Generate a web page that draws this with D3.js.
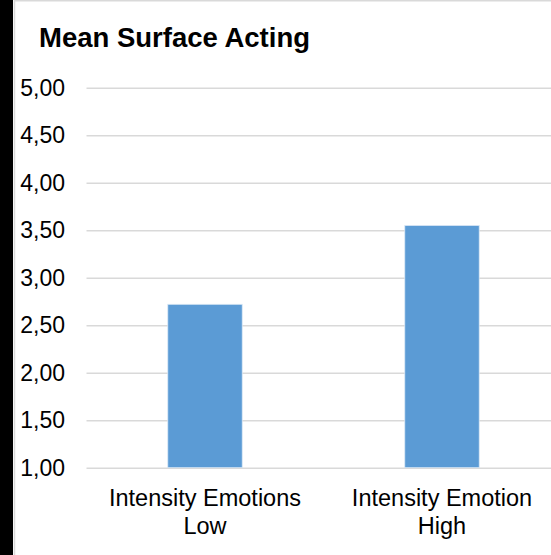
<!DOCTYPE html>
<html>
<head>
<meta charset="utf-8">
<script src="https://cdn.jsdelivr.net/npm/d3@7"></script>
<style>
  html, body { margin: 0; padding: 0; background: #fff; }
  svg { display: block; }
  text { font-family: "Liberation Sans", Arial, sans-serif; fill: #000; }
</style>
</head>
<body>
<svg id="chart" width="551" height="555"></svg>
<script>
// Chart data
const title = "Mean Surface Acting";
const categories = [["Intensity Emotions", "Low"], ["Intensity Emotion", "High"]];
const values = [2.72, 3.55];
const yTicks = [1.0, 1.5, 2.0, 2.5, 3.0, 3.5, 4.0, 4.5, 5.0];

const svg = d3.select("#chart");
const W = 551, H = 555;

// Frame: dark strip on the left, light chart-area border
svg.append("rect").attr("x", 0).attr("y", 0).attr("width", W).attr("height", H).attr("fill", "#fff");
svg.append("rect").attr("x", 0).attr("y", 0).attr("width", 13).attr("height", H).attr("fill", "#000");
svg.append("line").attr("x1", 14.5).attr("x2", 14.5).attr("y1", 0).attr("y2", H)
  .attr("stroke", "#d9d9d9").attr("stroke-width", 1.5);
svg.append("line").attr("x1", 14).attr("x2", W).attr("y1", 0.75).attr("y2", 0.75)
  .attr("stroke", "#d9d9d9").attr("stroke-width", 1.5);

const plot = { left: 86.5, right: 560.5, top: 87.7, bottom: 467.7 };

const x = d3.scaleBand()
  .domain(d3.range(categories.length))
  .range([plot.left, plot.right])
  .paddingInner(0.686)
  .paddingOuter(0.343);

const y = d3.scaleLinear().domain([1, 5]).range([plot.bottom, plot.top]);
const fmt = v => d3.format(".2f")(v).replace(".", ",");

// Gridlines and value axis labels
const yAxis = d3.axisLeft(y).tickValues(yTicks).tickFormat(fmt)
  .tickSize(-(plot.right - plot.left)).tickPadding(21.5);
const gy = svg.append("g").attr("transform", `translate(${plot.left},0)`).call(yAxis);
gy.select(".domain").remove();
gy.selectAll(".tick line").attr("stroke", "#d9d9d9").attr("stroke-width", 1.5);
gy.selectAll(".tick text").attr("font-size", 23).attr("fill", "#000")
  .attr("font-family", "Liberation Sans, Arial, sans-serif");

// Bars
svg.append("g").selectAll("rect").data(values).join("rect")
  .attr("x", (d, i) => x(i))
  .attr("y", d => y(d))
  .attr("width", x.bandwidth())
  .attr("height", d => y(1) - y(d))
  .attr("fill", "#5b9bd5")
  .attr("stroke", "#dbe8f5")
  .attr("stroke-width", 0.8);

// Category labels
const catG = svg.append("g");
categories.forEach((lines, i) => {
  const cx = x(i) + x.bandwidth() / 2;
  const t = catG.append("text")
    .attr("x", cx)
    .attr("y", 506)
    .attr("text-anchor", "middle")
    .attr("font-size", 23.5);
  lines.forEach((ln, k) => {
    t.append("tspan").attr("x", cx).attr("dy", k === 0 ? 0 : 28).text(ln);
  });
});

// Title
svg.append("text").attr("x", 39).attr("y", 47)
  .attr("font-size", 27.5).attr("font-weight", "bold").text(title);
</script>
</body>
</html>
